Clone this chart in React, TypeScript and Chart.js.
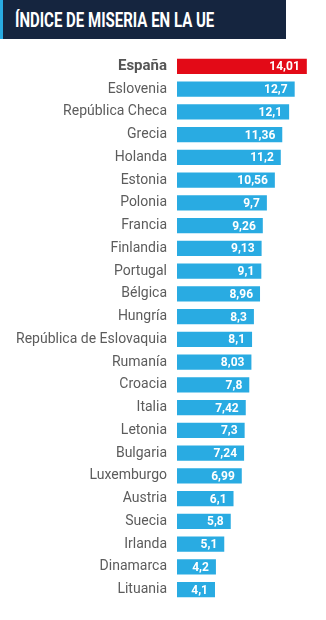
import React, { useEffect, useRef } from "react";
import { Chart, registerables } from "chart.js";

Chart.register(...registerables);

const TITLE = "ÍNDICE DE MISERIA EN LA UE";

const countries = [
  "España",
  "Eslovenia",
  "República Checa",
  "Grecia",
  "Holanda",
  "Estonia",
  "Polonia",
  "Francia",
  "Finlandia",
  "Portugal",
  "Bélgica",
  "Hungría",
  "República de Eslovaquia",
  "Rumanía",
  "Croacia",
  "Italia",
  "Letonia",
  "Bulgaria",
  "Luxemburgo",
  "Austria",
  "Suecia",
  "Irlanda",
  "Dinamarca",
  "Lituania",
];

const values = [
  14.01, 12.7, 12.1, 11.36, 11.2, 10.56, 9.7, 9.26, 9.13, 9.1, 8.96, 8.3, 8.1,
  8.03, 7.8, 7.42, 7.3, 7.24, 6.99, 6.1, 5.8, 5.1, 4.2, 4.1,
];

const valueLabels = [
  "14,01", "12,7", "12,1", "11,36", "11,2", "10,56", "9,7", "9,26", "9,13",
  "9,1", "8,96", "8,3", "8,1", "8,03", "7,8", "7,42", "7,3", "7,24", "6,99",
  "6,1", "5,8", "5,1", "4,2", "4,1",
];

const RED = "#e30a17";
const BLUE = "#29abe2";

const valuePlugin = {
  id: "valueLabels",
  afterDatasetsDraw(chart: any) {
    const ctx = chart.ctx;
    const meta = chart.getDatasetMeta(0);
    ctx.save();
    ctx.font = "bold 12px Roboto";
    ctx.fillStyle = "#ffffff";
    ctx.textAlign = "right";
    ctx.textBaseline = "middle";
    meta.data.forEach((bar: any, i: number) => {
      ctx.fillText(valueLabels[i], bar.x - 7, bar.y + 1);
    });
    ctx.restore();
  },
};

export default function App() {
  const canvasRef = useRef<HTMLCanvasElement | null>(null);

  useEffect(() => {
    document.body.style.margin = "0";
    const canvas = canvasRef.current;
    if (!canvas) return;
    const chart = new Chart(canvas, {
      type: "bar",
      data: {
        labels: countries,
        datasets: [
          {
            data: values,
            backgroundColor: values.map((_, i) => (i === 0 ? RED : BLUE)),
            borderWidth: 0,
            barPercentage: 0.68,
            categoryPercentage: 1,
          },
        ],
      },
      options: {
        indexAxis: "y",
        animation: false,
        responsive: true,
        maintainAspectRatio: false,
        layout: { padding: { top: 55, bottom: 15, left: 0, right: 10 } },
        plugins: {
          legend: { display: false },
          tooltip: { enabled: false },
          title: { display: false },
        },
        scales: {
          x: {
            display: false,
            min: 0,
            max: 15,
          },
          y: {
            afterFit: (scale: any) => {
              scale.width = 177;
            },
            border: { display: false },
            grid: { display: false, drawTicks: false },
            ticks: {
              padding: 10,
              color: (c: any) => (c.index === 0 ? "#555555" : "#5c5c5c"),
              font: (c: any) =>
                c.index === 0
                  ? { family: "Roboto", size: 15, weight: "bold" }
                  : { family: "Roboto", size: 14, weight: "normal" },
            },
          },
        },
      },
      plugins: [valuePlugin],
    });
    return () => chart.destroy();
  }, []);

  return (
    <div
      style={{
        position: "fixed",
        left: 0,
        top: 0,
        width: 326,
        height: 620,
        background: "#ffffff",
      }}
    >
      <canvas ref={canvasRef} />
      <div
        style={{
          position: "absolute",
          left: 0,
          top: 0,
          width: 286,
          height: 39,
          background: "#15253f",
          borderLeft: "3px solid #29abe2",
          boxSizing: "border-box",
          overflow: "hidden",
        }}
      >
        <div
          style={{
            position: "absolute",
            left: 12,
            top: 8,
            fontFamily: "Roboto",
            fontWeight: "bold",
            fontSize: 20,
            lineHeight: "24px",
            color: "#ffffff",
            whiteSpace: "nowrap",
            transform: "scaleX(0.75)",
            transformOrigin: "left center",
          }}
        >
          {TITLE}
        </div>
      </div>
    </div>
  );
}
